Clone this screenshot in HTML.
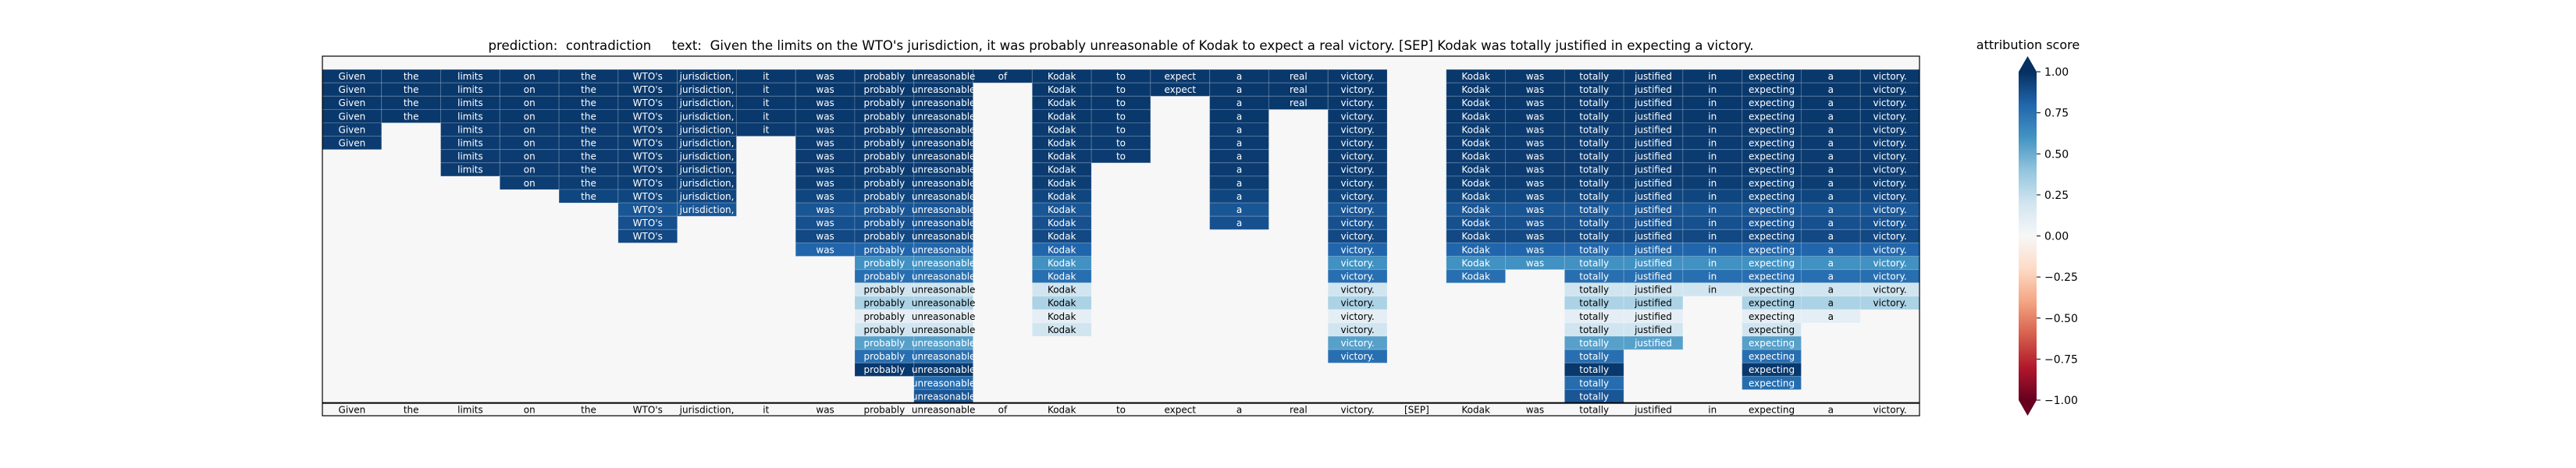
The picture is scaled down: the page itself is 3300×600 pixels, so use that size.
<!DOCTYPE html>
<html><head><meta charset="utf-8"><style>
body{margin:0;background:#fff;}
svg{display:block;font-family:"DejaVu Sans","Liberation Sans",sans-serif;}
</style></head><body>
<svg id="chart" width="3300" height="600" viewBox="0 0 3300 600" xmlns="http://www.w3.org/2000/svg">
<defs>
<linearGradient id="cmap" x1="0" y1="1" x2="0" y2="0">
<stop offset="0" stop-color="#67001f"/><stop offset="0.1" stop-color="#b2182b"/><stop offset="0.2" stop-color="#d6604d"/><stop offset="0.3" stop-color="#f4a582"/><stop offset="0.4" stop-color="#fddbc7"/><stop offset="0.5" stop-color="#f7f7f7"/><stop offset="0.6" stop-color="#d1e5f0"/><stop offset="0.7" stop-color="#92c5de"/><stop offset="0.8" stop-color="#4393c3"/><stop offset="0.9" stop-color="#2166ac"/><stop offset="1" stop-color="#053061"/>
</linearGradient>
</defs>
<text x="1436" y="64" font-size="17" text-anchor="middle" textLength="1621" lengthAdjust="spacingAndGlyphs" xml:space="preserve">prediction:  contradiction     text:  Given the limits on the WTO's jurisdiction, it was probably unreasonable of Kodak to expect a real victory. [SEP] Kodak was totally justified in expecting a victory.</text>
<rect x="413" y="72" width="2046" height="461" fill="#f7f7f7"/>
<g id="cells"></g>
<g id="labels"></g>
<line x1="413" y1="516.6" x2="2459" y2="516.6" stroke="#000" stroke-width="2"/>
<rect x="413" y="72" width="2046" height="461" fill="none" stroke="#000" stroke-width="1.2"/>
<g>
<rect x="2586" y="92" width="23" height="421" fill="url(#cmap)"/>
<polygon points="2586,92 2609,92 2597.5,72" fill="#053061"/>
<polygon points="2586,513 2609,513 2597.5,533" fill="#67001f"/>
<g id="cbticks"></g>
<text x="2598" y="63" font-size="16" text-anchor="middle">attribution score</text>
</g>
</svg>
<script>
const tokens = ["Given","the","limits","on","the","WTO's","jurisdiction,","it","was","probably","unreasonable","of","Kodak","to","expect","a","real","victory.","[SEP]","Kodak","was","totally","justified","in","expecting","a","victory."];
// attribution value of each perturbation row (row 0 = empty baseline)
const rowValues = [0,0.97,0.97,0.97,0.97,0.96,0.96,0.96,0.96,0.95,0.92,0.86,0.88,0.91,0.8,0.61,0.76,0.2,0.32,0.1,0.2,0.55,0.76,0.97,0.77,0.86];
// last row index in which each token is still present (0 = never)
const lastRow = [6,4,8,9,10,13,11,5,14,23,25,1,20,7,2,12,3,22,0,16,15,25,21,17,24,19,18];
const cbTickValues = [1,0.75,0.5,0.25,0,-0.25,-0.5,-0.75,-1];
const cbTickLabels = ["1.00","0.75","0.50","0.25","0.00","\u22120.25","\u22120.50","\u22120.75","\u22121.00"];

const NS="http://www.w3.org/2000/svg";
const X0=413, X1=2459, Y0=72, RH=17.1;
const CW=(X1-X0)/tokens.length;
const xCol=c=>X0+c*CW;
const yRow=r=>Y0+r*RH;
const yCb=v=>92+(1-v)/2*421;
const stops=[[-1,[103,0,31]],[-0.8,[178,24,43]],[-0.6,[214,96,77]],[-0.4,[244,165,130]],[-0.2,[253,219,199]],[0,[247,247,247]],[0.2,[209,229,240]],[0.4,[146,197,222]],[0.6,[67,147,195]],[0.8,[33,102,172]],[1,[5,48,97]]];
function color(v){v=Math.max(-1,Math.min(1,v));for(let i=0;i<stops.length-1;i++){const a=stops[i],b=stops[i+1];if(v<=b[0]){const t=(v-a[0])/(b[0]-a[0]);const c=a[1].map((x,k)=>Math.round(x+(b[1][k]-x)*t));return `rgb(${c[0]},${c[1]},${c[2]})`;}}return "rgb(5,48,97)";}
function mk(tag,attrs){const e=document.createElementNS(NS,tag);for(const k in attrs)e.setAttribute(k,attrs[k]);return e;}
const cells=document.getElementById('cells');
const texts=[];
for(let r=0;r<rowValues.length;r++){
  for(let c=0;c<tokens.length;c++){
    if(r<1||r>lastRow[c])continue;
    const v=rowValues[r];
    const rect=mk('rect',{x:xCol(c),y:yRow(r),width:CW,height:RH,fill:color(v),stroke:'rgba(255,255,255,0.18)','stroke-width':1});
    
    
    cells.appendChild(rect);
    const t=mk('text',{x:xCol(c)+CW/2,y:yRow(r)+RH/2+4.3,'font-size':12,'text-anchor':'middle',fill:Math.abs(v)>0.45?'#fff':'#000'});
    
    
    t.textContent=tokens[c];
    texts.push(t);
  }
}
texts.forEach(t=>cells.appendChild(t));
const labels=document.getElementById('labels');
tokens.forEach((tk,c)=>{
  const t=mk('text',{x:xCol(c)+CW/2,y:yRow(rowValues.length)+RH/2+4.3,'font-size':12,'text-anchor':'middle',fill:'#000'});
  
  
  t.textContent=tk;
  labels.appendChild(t);
});
const cb=document.getElementById('cbticks');
cbTickValues.forEach((v,i)=>{
  const y=yCb(v);
  const l=mk('line',{x1:2609,x2:2614,y1:y,y2:y,stroke:'#000','stroke-width':1});
  
  
  cb.appendChild(l);
  const t=mk('text',{x:2619,y:y+5,'font-size':14,fill:'#000'});
  
  
  t.textContent=cbTickLabels[i];
  cb.appendChild(t);
});
</script>
</body></html>
